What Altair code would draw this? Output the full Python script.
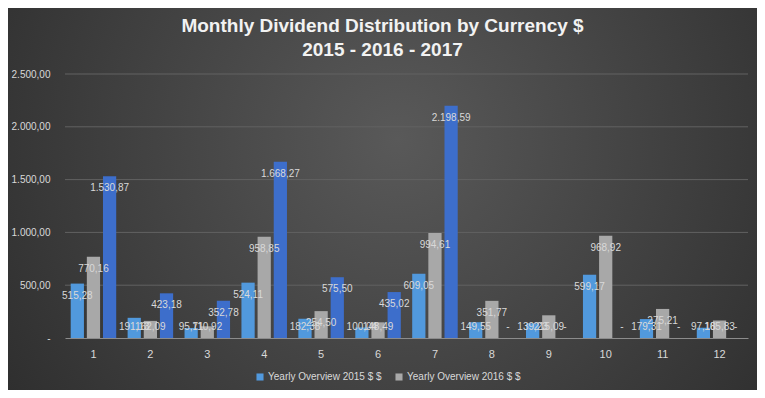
import altair as alt
import pandas as pd

months = [str(i) for i in range(1, 13)]
series = ["Yearly Overview 2015 $ $", "Yearly Overview 2016 $ $", "Yearly Overview 2017 $ $"]
v2015 = [515.28, 191.13, 95.71, 524.11, 182.38, 100.04, 609.05, 149.55, 139.23, 599.17, 179.31, 97.18]
v2016 = [770.16, 162.09, 110.92, 958.85, 254.50, 148.49, 994.61, 351.77, 215.09, 968.92, 275.21, 165.83]
v2017 = [1530.87, 423.18, 352.78, 1668.27, 575.50, 435.02, 2198.59, 0, 0, 0, 0, 0]
colors = ["#5199DD", "#A8A8A8", "#3D6ECB"]
y_ticks = [0, 500, 1000, 1500, 2000, 2500]
grid_ticks = [500, 1000, 1500, 2000, 2500]

FONT = "Liberation Sans, Arial, sans-serif"
TXT = "#d9d9d9"


def fmt(v):
    if v == 0:
        return "-"
    s = f"{v:,.2f}"
    return s.replace(",", "#").replace(".", ",").replace("#", ".")


rows = []
for s, vals in zip(series, [v2015, v2016, v2017]):
    for m, v in zip(months, vals):
        rows.append({"month": m, "series": s, "value": v, "label": fmt(v)})
df = pd.DataFrame(rows)

W, H = 683, 264
PL, PT, PR, PB = 57, 66, 9, 52

yscale = alt.Scale(domain=[0, 2500], nice=False)
xenc = alt.X(
    "month:N", sort=months,
    scale=alt.Scale(paddingInner=0.2, paddingOuter=0.1),
    axis=alt.Axis(title=None, labelAngle=0, labelColor=TXT, labelFontSize=11, labelFont=FONT,
                  ticks=False, domain=True, domainColor="#8c8c8c", labelPadding=10, zindex=1),
)
yaxis = alt.Axis(
    title=None, values=y_ticks, grid=False, ticks=False, domain=False,
    labelColor=TXT, labelFontSize=10, labelFont=FONT, labelPadding=15, zindex=1,
    labelExpr="datum.value == 0 ? '-' : replace(replace(replace(format(datum.value, ',.2f'), ',', '_'), '.', ','), '_', '.')",
)
xoff = alt.XOffset("series:N", sort=series, scale=alt.Scale(paddingInner=0.18, paddingOuter=0))

bg_grad = {
    "gradient": "radial",
    "x1": 0.52, "y1": 0.42, "r1": 0,
    "x2": 0.52, "y2": 0.42, "r2": 0.75,
    "stops": [
        {"offset": 0, "color": "#595959"},
        {"offset": 1, "color": "#262626"},
    ],
}

bg = alt.Chart(pd.DataFrame({"a": [0]})).mark_rect(fill=bg_grad, clip=False).encode(
    x=alt.value(-PL), x2=alt.value(W + PR), y=alt.value(-PT), y2=alt.value(H + PB)
)

grid = alt.Chart(pd.DataFrame({"g": grid_ticks})).mark_rule(color="#626262", strokeWidth=1).encode(
    y=alt.Y("g:Q", scale=yscale, axis=yaxis)
)

base = alt.Chart(df)
bars = base.mark_bar().encode(
    x=xenc,
    xOffset=xoff,
    y=alt.Y("value:Q", scale=yscale, axis=yaxis),
    color=alt.Color(
        "series:N", sort=series,
        scale=alt.Scale(domain=series, range=colors),
        legend=alt.Legend(
            title=None, values=series[:2], orient="none", legendX=190, legendY=298,
            direction="horizontal", symbolType="square", symbolSize=50, symbolStrokeWidth=0,
            labelColor=TXT, labelFontSize=10, labelFont=FONT, columnPadding=12, labelOffset=3,
            zindex=1,
        ),
    ),
)

# Data labels sit inside the bar end, but never lower than just above the axis
labels = base.transform_calculate(ly="max(datum.value, 218)").mark_text(
    dy=12, baseline="middle", align="center", color=TXT, fontSize=10, font=FONT
).encode(x=xenc, xOffset=xoff, y=alt.Y("ly:Q", scale=yscale, axis=yaxis), text="label:N")

chart = alt.layer(bg, grid, bars, labels).properties(
    width=W, height=H,
    padding={"left": PL, "top": PT, "right": PR, "bottom": PB},
    autosize=alt.AutoSizeParams(type="none"),
    title=alt.TitleParams(
        ["Monthly Dividend Distribution  by Currency $", "2015 - 2016 - 2017"],
        fontSize=19, font=FONT, fontWeight="bold", color="#f2f2f2",
        anchor="middle", frame="group", dx=-24, offset=-(PT - 14), lineHeight=24, zindex=1,
    ),
).configure(background="#3a3a3a").configure_view(stroke=None)

chart.save("out.html", embed_options={"renderer": "svg", "actions": False})
